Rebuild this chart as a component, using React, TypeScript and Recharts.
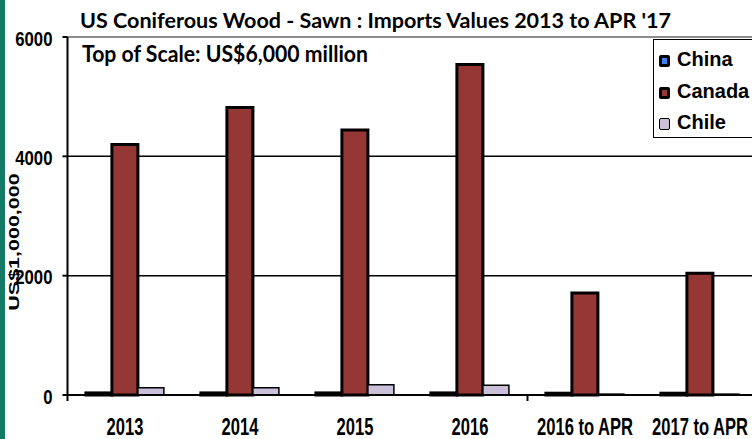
import React from "react";
import {
  BarChart, Bar, XAxis, YAxis, CartesianGrid, ReferenceLine,
} from "recharts";

const categories = ["2013", "2014", "2015", "2016", "2016 to APR", "2017 to APR"];
const chinaValues = [35, 35, 35, 35, 30, 30];
const canadaValues = [4200, 4820, 4440, 5540, 1710, 2040];
const chileValues = [120, 120, 170, 165, 15, 15];
const yTicks = [0, 2000, 4000, 6000];

const series = [
  { key: "china", name: "China", fill: "#3f80fb", sw: 3 },
  { key: "canada", name: "Canada", fill: "#953735", sw: 3 },
  { key: "chile", name: "Chile", fill: "#cbc0da", sw: 1.5 },
];

const data = categories.map((c, i) => ({
  name: c,
  china: chinaValues[i],
  canada: canadaValues[i],
  chile: chileValues[i],
}));

const FONT = "'Liberation Sans', Arial, sans-serif";

const XTick = (props: any) => {
  const { x, y, payload, index } = props;
  const off = payload?.offset ?? 57.5;
  const mark = index === 0 || index === 4;
  return (
    <g>
      {mark && <line x1={x - off} x2={x - off} y1={y - 1} y2={y + 6} stroke="#000" strokeWidth={2} />}
      <g transform={`translate(${x},${y + 40}) scale(0.72,1)`}>
        <text textAnchor="middle" fontFamily={FONT} fontWeight="bold" fontSize={23} fill="#000">
          {payload.value}
        </text>
      </g>
    </g>
  );
};

const YTick = (props: any) => {
  const { x, y, payload } = props;
  return (
    <g transform={`translate(${x},${y + 8.5}) scale(0.86,1)`}>
      <text textAnchor="end" fontFamily={FONT} fontWeight="bold" fontSize={19.5} fill="#000">
        {payload.value}
      </text>
    </g>
  );
};

// legend drawn outside recharts so it doesn't shrink the plot
const LegendBox = () => (
  <div
    style={{
      position: "absolute",
      left: 653,
      top: 39,
      border: "1.5px solid #000",
      background: "#fff",
      padding: "4px 0 0 5px",
      width: 120,
      height: 99,
      boxSizing: "border-box",
      fontFamily: FONT,
      fontWeight: "bold",
      fontSize: 20,
      color: "#000",
    }}
  >
    {series.map((s) => (
      <div key={s.key} style={{ height: 31.5, lineHeight: "31.5px", whiteSpace: "nowrap" }}>
        <span
          style={{
            display: "inline-block",
            width: 11,
            height: 12,
            boxSizing: "border-box",
            border: `${s.sw}px solid #000`,
            borderRadius: 2,
            background: s.fill,
            marginRight: 7,
            verticalAlign: "-1px",
          }}
        />
        {s.name}
      </div>
    ))}
  </div>
);

export default function App() {
  return (
    <div style={{ position: "absolute", left: 0, top: 0, width: 752, height: 439, overflow: "hidden", background: "#fff" }}>
      <BarChart
        width={760}
        height={439}
        data={data}
        margin={{ top: 37, right: 2.5, bottom: 0, left: 0 }}
        barCategoryGap="16%"
        barGap={0}
      >
        <CartesianGrid vertical={false} stroke="#000" strokeWidth={1.5} />
        <XAxis
          dataKey="name"
          height={44}
          tickSize={0}
          tickMargin={0}
          tickLine={false}
          axisLine={{ stroke: "#000", strokeWidth: 2 }}
          tick={<XTick />}
          interval={0}
        />
        <YAxis
          width={67.5}
          domain={[0, 6000]}
          ticks={yTicks}
          tickSize={5}
          tickMargin={10}
          tickLine={{ stroke: "#000", strokeWidth: 2 }}
          axisLine={{ stroke: "#000", strokeWidth: 2 }}
          tick={<YTick />}
          interval={0}
        />
        <ReferenceLine y={6000} stroke="#8c8c8c" strokeWidth={2} />
        {series.map((s) => (
          <Bar
            key={s.key}
            dataKey={s.key}
            name={s.name}
            fill={s.fill}
            stroke="#000"
            strokeWidth={s.sw}
            isAnimationActive={false}
          />
        ))}
      </BarChart>
      <LegendBox />
      <svg width={752} height={439} style={{ position: "absolute", left: 0, top: 0, pointerEvents: "none" }}>
        <rect x={0} y={0} width={5} height={439} fill="#157a65" />
        <text x={80} y={28} fontFamily="Lato, 'Open Sans', sans-serif" fontWeight="bold" fontSize={21}
          textLength={591} lengthAdjust="spacingAndGlyphs" fill="#000">
          US Coniferous Wood - Sawn :  Imports Values 2013 to APR '17
        </text>
        <text x={82} y={62} fontFamily="Lato, 'Open Sans', sans-serif" fontWeight="bold" fontSize={22}
          textLength={286} lengthAdjust="spacingAndGlyphs" fill="#000">
          Top of Scale: US$6,000 million
        </text>
        <g transform="translate(14,242) rotate(-90) scale(1,0.72)">
          <text textAnchor="middle" dominantBaseline="central" fontFamily={FONT} fontWeight="bold" fontSize={21.5} fill="#000">
            US$1,000,000
          </text>
        </g>
      </svg>
    </div>
  );
}
